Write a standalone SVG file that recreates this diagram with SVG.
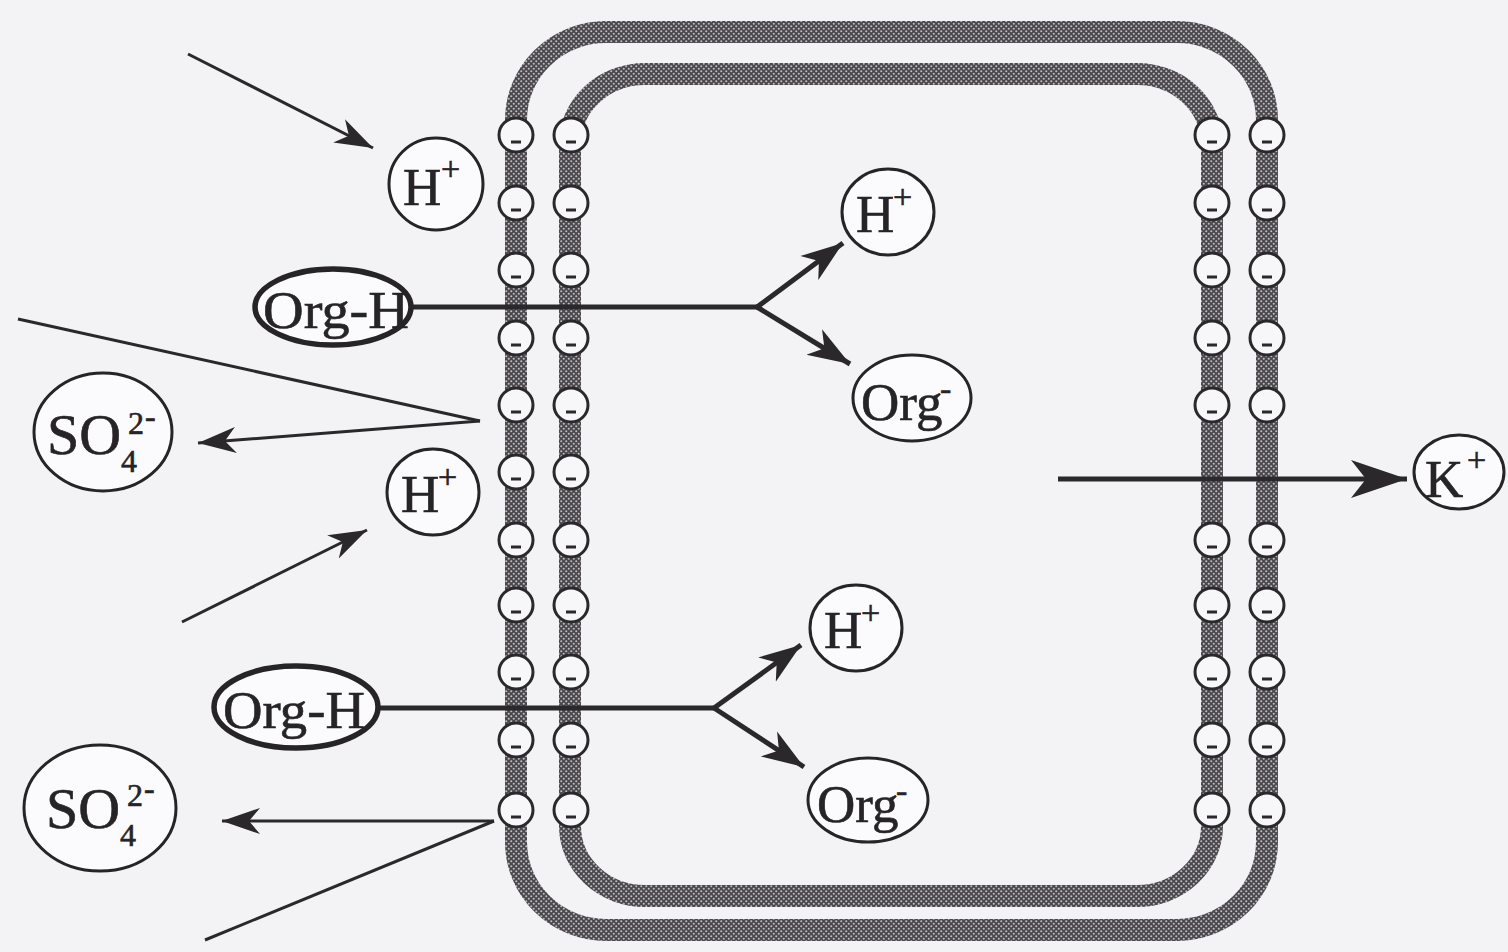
<svg xmlns="http://www.w3.org/2000/svg" xmlns:xlink="http://www.w3.org/1999/xlink" width="1508" height="952" viewBox="0 0 1508 952">
  <style>
    .ion { fill: #fbfafc; stroke: #262426; stroke-width: 3; }
    .ion-bold { fill: #fbfafc; stroke: #262426; stroke-width: 5.5; }
    .lbl { font-family: "Liberation Serif", "Times New Roman", serif; fill: #262426; stroke: #262426; stroke-width: 0.6; }
    .big { font-size: 53px; }
    .so { font-size: 58px; }
    .sup { font-size: 34px; }
    .idx { font-size: 32px; }
    .thin { fill: none; stroke: #2a282a; stroke-width: 3; }
    .thick { fill: none; stroke: #2a282a; stroke-width: 5; }
    .membrane { fill: none; stroke: url(#dots); stroke-width: 22; }
  </style>
  <defs>
    <!-- stippled lipid texture -->
    <pattern id="dots" patternUnits="userSpaceOnUse" width="5" height="5">
      <rect width="5" height="5" fill="#4a484b"/>
      <circle cx="1.25" cy="1.25" r="1.05" fill="#bebcc0"/>
      <circle cx="3.75" cy="3.75" r="1.05" fill="#bebcc0"/>
    </pattern>
    <!-- negative charge site on the membrane -->
    <g id="neg">
      <circle r="17" fill="#f7f6f8" stroke="#2a282a" stroke-width="3"/>
      <path d="M-5,7 H5" stroke="#2a282a" stroke-width="3"/>
    </g>
    <marker id="headThin" markerUnits="userSpaceOnUse" markerWidth="40" markerHeight="28" refX="38" refY="14" orient="auto">
      <path d="M0,1 L38,14 L0,27 L11,14 Z" fill="#2a282a"/>
    </marker>
    <marker id="headThick" markerUnits="userSpaceOnUse" markerWidth="44" markerHeight="32" refX="42" refY="16" orient="auto">
      <path d="M0,1 L42,16 L0,31 L12,16 Z" fill="#2a282a"/>
    </marker>
    <marker id="headK" markerUnits="userSpaceOnUse" markerWidth="58" markerHeight="40" refX="56" refY="20" orient="auto">
      <path d="M0,1 L56,20 L0,39 L15,20 Z" fill="#2a282a"/>
    </marker>
  </defs>

  <rect width="1508" height="952" fill="#f3f2f4"/>

  <!-- double membrane -->
  <g id="membranes">
    <rect class="membrane" x="516" y="32" width="751" height="898" rx="90" ry="88"/>
    <rect class="membrane" x="570" y="74" width="642" height="822" rx="75" ry="70"/>
  </g>

  <!-- fluxes -->
  <g id="connectors">
    <line class="thin" x1="188" y1="54" x2="373" y2="148" marker-end="url(#headThin)"/>
    <polyline class="thick" points="405,307 757,307"/>
    <line class="thick" x1="757" y1="307" x2="843" y2="243" marker-end="url(#headThick)"/>
    <line class="thick" x1="757" y1="307" x2="850" y2="364" marker-end="url(#headThick)"/>
    <polyline class="thin" points="18,319 480,421"/>
    <line class="thin" x1="480" y1="421" x2="198" y2="443" marker-end="url(#headThin)"/>
    <line class="thin" x1="182" y1="622" x2="367" y2="530" marker-end="url(#headThin)"/>
    <polyline class="thick" points="380,708 714,708"/>
    <line class="thick" x1="714" y1="708" x2="801" y2="645" marker-end="url(#headThick)"/>
    <line class="thick" x1="714" y1="708" x2="804" y2="767" marker-end="url(#headThick)"/>
    <line class="thin" x1="494" y1="821" x2="222" y2="821" marker-end="url(#headThin)"/>
    <polyline class="thin" points="494,821 205,940"/>
    <line class="thick" x1="1058" y1="479" x2="1407" y2="479" marker-end="url(#headK)"/>
  </g>

  <!-- charge sites, left wall -->
  <g id="charges-left">
    <use xlink:href="#neg" x="516" y="135"/><use xlink:href="#neg" x="571" y="135"/>
    <use xlink:href="#neg" x="516" y="203"/><use xlink:href="#neg" x="571" y="203"/>
    <use xlink:href="#neg" x="516" y="270"/><use xlink:href="#neg" x="571" y="270"/>
    <use xlink:href="#neg" x="516" y="338"/><use xlink:href="#neg" x="571" y="338"/>
    <use xlink:href="#neg" x="516" y="405"/><use xlink:href="#neg" x="571" y="405"/>
    <use xlink:href="#neg" x="516" y="472"/><use xlink:href="#neg" x="571" y="472"/>
    <use xlink:href="#neg" x="516" y="540"/><use xlink:href="#neg" x="571" y="540"/>
    <use xlink:href="#neg" x="516" y="605"/><use xlink:href="#neg" x="571" y="605"/>
    <use xlink:href="#neg" x="516" y="672"/><use xlink:href="#neg" x="571" y="672"/>
    <use xlink:href="#neg" x="516" y="740"/><use xlink:href="#neg" x="571" y="740"/>
    <use xlink:href="#neg" x="516" y="810"/><use xlink:href="#neg" x="571" y="810"/>
  </g>

  <!-- charge sites, right wall -->
  <g id="charges-right">
    <use xlink:href="#neg" x="1212" y="135"/><use xlink:href="#neg" x="1267" y="135"/>
    <use xlink:href="#neg" x="1212" y="203"/><use xlink:href="#neg" x="1267" y="203"/>
    <use xlink:href="#neg" x="1212" y="270"/><use xlink:href="#neg" x="1267" y="270"/>
    <use xlink:href="#neg" x="1212" y="338"/><use xlink:href="#neg" x="1267" y="338"/>
    <use xlink:href="#neg" x="1212" y="405"/><use xlink:href="#neg" x="1267" y="405"/>
    <use xlink:href="#neg" x="1212" y="540"/><use xlink:href="#neg" x="1267" y="540"/>
    <use xlink:href="#neg" x="1212" y="605"/><use xlink:href="#neg" x="1267" y="605"/>
    <use xlink:href="#neg" x="1212" y="672"/><use xlink:href="#neg" x="1267" y="672"/>
    <use xlink:href="#neg" x="1212" y="740"/><use xlink:href="#neg" x="1267" y="740"/>
    <use xlink:href="#neg" x="1212" y="810"/><use xlink:href="#neg" x="1267" y="810"/>
  </g>

  <!-- ions -->
  <g id="h-out-top">
    <ellipse class="ion" cx="436" cy="184" rx="47" ry="46"/>
    <text class="lbl big" x="403" y="205">H</text>
    <text class="lbl sup" x="441" y="180">+</text>
  </g>
  <g id="orgh-top">
    <ellipse class="ion-bold" cx="333" cy="307" rx="78" ry="38"/>
    <text class="lbl big" x="336" y="328" text-anchor="middle" textLength="146" lengthAdjust="spacingAndGlyphs">Org-H</text>
  </g>
  <g id="h-in-top">
    <ellipse class="ion" cx="888" cy="212" rx="46" ry="43"/>
    <text class="lbl big" x="856" y="232">H</text>
    <text class="lbl sup" x="893" y="208">+</text>
  </g>
  <g id="org-in-top">
    <ellipse class="ion" cx="912" cy="398" rx="59" ry="43"/>
    <text class="lbl big" x="861" y="420">Org</text>
    <text class="lbl sup" x="940" y="400">-</text>
  </g>
  <g id="so4-top">
    <ellipse class="ion" cx="103" cy="432" rx="69" ry="59"/>
    <text class="lbl so" x="47" y="454">SO</text>
    <text class="lbl idx" x="121" y="472">4</text>
    <text class="lbl idx" x="128" y="434">2</text>
    <text class="lbl idx" x="145" y="427">-</text>
  </g>
  <g id="h-out-mid">
    <ellipse class="ion" cx="433" cy="492" rx="46" ry="43"/>
    <text class="lbl big" x="401" y="512">H</text>
    <text class="lbl sup" x="438" y="488">+</text>
  </g>
  <g id="orgh-bottom">
    <ellipse class="ion-bold" cx="296" cy="707" rx="82" ry="41"/>
    <text class="lbl big" x="294" y="728" text-anchor="middle" textLength="142" lengthAdjust="spacingAndGlyphs">Org-H</text>
  </g>
  <g id="h-in-bottom">
    <ellipse class="ion" cx="856" cy="628" rx="46" ry="43"/>
    <text class="lbl big" x="824" y="648">H</text>
    <text class="lbl sup" x="861" y="624">+</text>
  </g>
  <g id="org-in-bottom">
    <ellipse class="ion" cx="868" cy="800" rx="60" ry="42"/>
    <text class="lbl big" x="817" y="822">Org</text>
    <text class="lbl sup" x="896" y="802">-</text>
  </g>
  <g id="so4-bottom">
    <ellipse class="ion" cx="100" cy="808" rx="76" ry="63"/>
    <text class="lbl so" x="46" y="828">SO</text>
    <text class="lbl idx" x="120" y="846">4</text>
    <text class="lbl idx" x="127" y="806">2</text>
    <text class="lbl idx" x="144" y="799">-</text>
  </g>
  <g id="k-out">
    <ellipse class="ion" cx="1459" cy="472" rx="45" ry="37"/>
    <text class="lbl big" x="1425" y="497">K</text>
    <text class="lbl sup" x="1467" y="471">+</text>
  </g>
</svg>
